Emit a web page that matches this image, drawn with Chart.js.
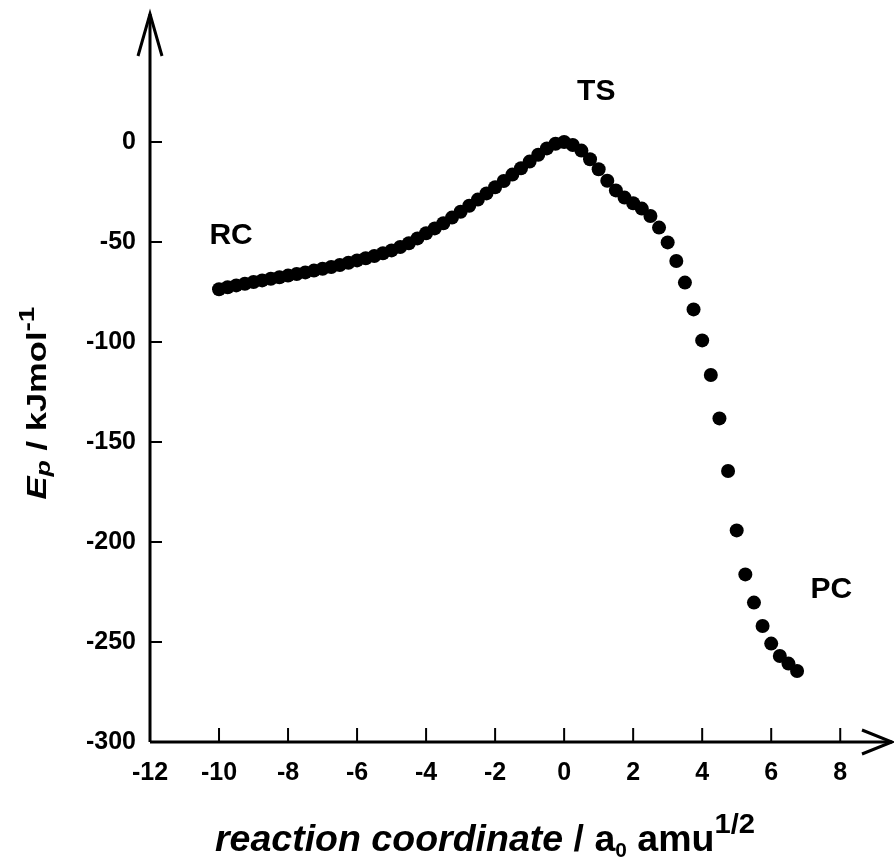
<!DOCTYPE html>
<html>
<head>
<meta charset="utf-8">
<script src="https://cdn.jsdelivr.net/npm/chart.js@4/dist/chart.umd.min.js"></script>
<style>
  html, body { margin: 0; padding: 0; background: #fff; }
  #ircChart { display: block; }
</style>
</head>
<body>
<canvas id="ircChart" width="894" height="859"></canvas>
<script>
// IRC profile: reaction coordinate (a0 amu^1/2) vs potential energy (kJ/mol)
const coords = [
  -10, -9.75, -9.5, -9.25, -9, -8.75, -8.5, -8.25, -8, -7.75,
  -7.5, -7.25, -7, -6.75, -6.5, -6.25, -6, -5.75, -5.5, -5.25,
  -5, -4.75, -4.5, -4.25, -4, -3.75, -3.5, -3.25, -3, -2.75,
  -2.5, -2.25, -2, -1.75, -1.5, -1.25, -1, -0.75, -0.5, -0.25,
  0, 0.25, 0.5, 0.75, 1, 1.25, 1.5, 1.75, 2, 2.25,
  2.5, 2.75, 3, 3.25, 3.5, 3.75, 4, 4.25, 4.5, 4.75,
  5, 5.25, 5.5, 5.75, 6, 6.25, 6.5, 6.75
];
const energies = [
  -73.6, -72.6, -71.7, -70.9, -70.0, -69.2, -68.4, -67.6, -66.8, -66.0,
  -65.2, -64.3, -63.4, -62.5, -61.5, -60.4, -59.2, -58.1, -57.0, -55.6,
  -54.2, -52.5, -50.6, -48.2, -45.6, -43.2, -40.6, -37.8, -34.9, -31.9,
  -28.8, -25.7, -22.6, -19.5, -16.3, -13.1, -9.8, -6.4, -3.2, -0.9,
  0.0, -1.5, -4.3, -8.6, -13.6, -19.4, -24.2, -27.8, -30.6, -33.3,
  -37.0, -42.8, -50.2, -59.5, -70.3, -83.7, -99.2, -116.5, -138.2, -164.5,
  -194.2, -216.2, -230.3, -242.0, -250.8, -257.0, -260.8, -264.5
];

// tick labels
const xTicks = [-12, -10, -8, -6, -4, -2, 0, 2, 4, 6, 8];
const yTicks = [-300, -250, -200, -150, -100, -50, 0];

// point labels (data coordinates)
const tagText = ['RC', 'TS', 'PC'];
const tagX = [-9.65, 0.93, 7.74];
const tagY = [-45.7, 26.4, -222.7];

const FONT = "'Liberation Sans', Arial, Helvetica, sans-serif";

// draw a run of differently styled text pieces, stretched to a given width
function drawRich(ctx, parts, targetW) {
  let w = 0;
  parts.forEach(p => {
    ctx.font = p.font;
    p.w = ctx.measureText(p.t).width;
    w += p.w;
  });
  const sx = targetW / w;
  ctx.save();
  ctx.scale(sx, 1);
  ctx.textAlign = 'left';
  ctx.textBaseline = 'alphabetic';
  let pos = -w / 2;
  parts.forEach(p => {
    ctx.font = p.font;
    ctx.fillText(p.t, pos, p.dy || 0);
    pos += p.w;
  });
  ctx.restore();
}

const arrowAxes = {
  id: 'arrowAxes',
  afterDraw(chart) {
    const { ctx, chartArea: a, scales: { x, y } } = chart;
    ctx.save();
    ctx.strokeStyle = '#000';
    ctx.fillStyle = '#000';

    // axis lines
    ctx.lineWidth = 3;
    ctx.beginPath();
    ctx.moveTo(a.left, a.bottom);
    ctx.lineTo(a.right, a.bottom);
    ctx.moveTo(a.left, a.bottom);
    ctx.lineTo(a.left, a.top);
    ctx.stroke();

    // arrow heads
    ctx.beginPath();
    ctx.moveTo(a.right - 30, a.bottom - 12);
    ctx.lineTo(a.right, a.bottom);
    ctx.lineTo(a.right - 30, a.bottom + 12);
    ctx.moveTo(a.left - 12, a.top + 42);
    ctx.lineTo(a.left, a.top);
    ctx.lineTo(a.left + 12, a.top + 42);
    ctx.stroke();

    // inward tick marks
    ctx.lineWidth = 2;
    ctx.beginPath();
    xTicks.forEach(v => {
      if (v === x.min) return;
      const px = x.getPixelForValue(v);
      ctx.moveTo(px, a.bottom);
      ctx.lineTo(px, a.bottom - 14);
    });
    yTicks.forEach(v => {
      if (v === y.min) return;
      const py = y.getPixelForValue(v);
      ctx.moveTo(a.left, py);
      ctx.lineTo(a.left + 12, py);
    });
    ctx.stroke();

    // RC / TS / PC
    ctx.font = 'bold 30px ' + FONT;
    ctx.textAlign = 'center';
    ctx.textBaseline = 'alphabetic';
    tagText.forEach((t, i) => {
      ctx.fillText(t, x.getPixelForValue(tagX[i]), y.getPixelForValue(tagY[i]) + 10.7);
    });

    // x axis title
    ctx.save();
    ctx.translate(485, 851);
    drawRich(ctx, [
      { t: 'reaction coordinate', font: 'italic bold 36px ' + FONT },
      { t: ' / a', font: 'bold 36px ' + FONT },
      { t: '0', font: 'bold 20px ' + FONT, dy: 6 },
      { t: ' amu', font: 'bold 36px ' + FONT },
      { t: '1/2', font: 'bold 28px ' + FONT, dy: -18 }
    ], 540);
    ctx.restore();

    // y axis title (rotated)
    ctx.save();
    ctx.translate(46, 403);
    ctx.rotate(-Math.PI / 2);
    drawRich(ctx, [
      { t: 'E', font: 'italic bold 27px ' + FONT },
      { t: 'p', font: 'italic bold 21px ' + FONT, dy: 4 },
      { t: ' / kJmol', font: 'bold 27px ' + FONT },
      { t: '-1', font: 'bold 22px ' + FONT, dy: -12 }
    ], 193);
    ctx.restore();

    ctx.restore();
  }
};

const tickFont = { family: FONT, weight: 'bold', size: 25 };

const chart = new Chart(document.getElementById('ircChart').getContext('2d'), {
  type: 'scatter',
  data: {
    datasets: [{
      data: coords.map((c, i) => ({ x: c, y: energies[i] })),
      pointRadius: 7,
      pointHoverRadius: 7,
      pointBackgroundColor: '#000',
      pointBorderWidth: 0,
      showLine: false
    }]
  },
  options: {
    responsive: false,
    animation: false,
    devicePixelRatio: 1,
    layout: { autoPadding: false, padding: { top: 14, right: 2, left: 0, bottom: 0 } },
    plugins: { legend: { display: false }, tooltip: { enabled: false } },
    scales: {
      x: {
        type: 'linear',
        min: -12,
        max: 9.5,
        afterBuildTicks: s => { s.ticks = xTicks.map(v => ({ value: v })); },
        afterFit: s => { s.height = 117; s.paddingLeft = 0; s.paddingRight = 0; },
        grid: { display: false, drawTicks: false },
        border: { display: false },
        ticks: { padding: 16, color: '#000', font: tickFont, autoSkip: false, maxRotation: 0 }
      },
      y: {
        type: 'linear',
        min: -300,
        max: 64,
        afterBuildTicks: s => { s.ticks = yTicks.map(v => ({ value: v })); },
        afterFit: s => { s.width = 150; s.paddingTop = 0; s.paddingBottom = 0; },
        grid: { display: false, drawTicks: false },
        border: { display: false },
        ticks: { padding: 14, color: '#000', font: tickFont }
      }
    }
  },
  plugins: [arrowAxes]
});
</script>
</body>
</html>
